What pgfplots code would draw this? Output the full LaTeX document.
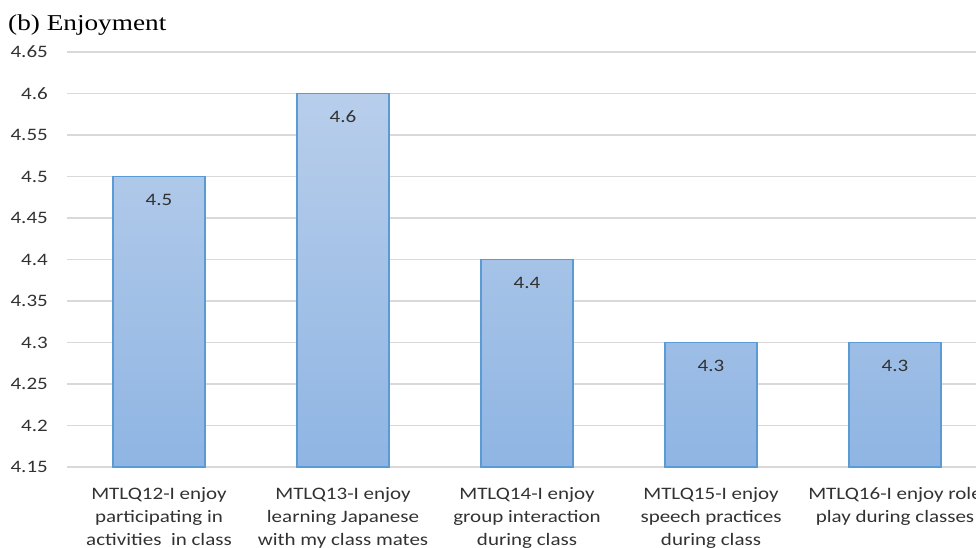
\documentclass[border=0pt]{standalone}
\usepackage{fontspec}
\setmainfont{Carlito}[FakeStretch=1.2]
\newfontfamily\titlefont{Liberation Serif}[FakeStretch=1.2]
\usepackage{pgfplots}
\usepackage{pgfplotstable}
\pgfplotsset{compat=1.18}
\definecolor{gridgray}{RGB}{217,217,217}
\definecolor{labelgray}{RGB}{50,50,50}
\definecolor{bartop}{RGB}{184,206,235}
\definecolor{barbottom}{RGB}{143,181,227}
\definecolor{barborder}{RGB}{91,155,213}
\pgfplotstableread{
x y
0 4.5
1 4.6
2 4.4
3 4.3
4 4.3
}\data
\begin{document}
\begin{tikzpicture}[x=1pt,y=1pt]
\useasboundingbox (0,0) rectangle (976,548);
\clip (0,0) rectangle (976,548);
\node[anchor=base west, inner sep=0pt, font=\titlefont\fontsize{22.7}{27}\selectfont] at (8,517) {(b) Enjoyment};
\begin{axis}[
  at={(67pt,81pt)}, anchor=south west,
  scale only axis, width=920pt, height=415pt,
  xmin=-0.5, xmax=4.5, ymin=0, ymax=0.5,
  /pgf/number format/assume math mode=true,
  ytick={0,0.05,0.1,0.15,0.2,0.25,0.3,0.35,0.4,0.45,0.5},
  yticklabels={4.15,4.2,4.25,4.3,4.35,4.4,4.45,4.5,4.55,4.6,4.65},
  xtick={0,1,2,3,4},
  xticklabels={
    {MTLQ12-I enjoy\\participating in\\activities~ in class},
    {MTLQ13-I enjoy\\learning Japanese\\with my class mates},
    {MTLQ14-I enjoy\\group interaction\\during class},
    {MTLQ15-I enjoy\\speech practices\\during class},
    {MTLQ16-I enjoy role\\play during classes}},
  axis line style={draw=none},
  tick style={draw=none},
  major tick length=0pt,
  ymajorgrids,
  grid style={gridgray, line width=1.2pt},
  yticklabel style={anchor=east, inner sep=0pt, xshift=-19pt, font=\fontsize{17.5}{21}\selectfont, text=labelgray},
  xticklabel style={align=center, anchor=north, inner sep=0pt, yshift=-20pt, font=\fontsize{17.5}{23}\selectfont, text=labelgray},
  clip=false,
]
\addplot[ybar, bar width=92pt, draw=barborder, line width=1.5pt,
  top color=bartop, bottom color=barbottom,
  point meta=explicit,
  nodes near coords,
  nodes near coords style={anchor=center, yshift=-23pt, font=\fontsize{17.5}{21}\selectfont, text=labelgray}]
  table[x=x, y expr=\thisrow{y}-4.15, meta=y] {\data};
\end{axis}
\end{tikzpicture}
\end{document}
